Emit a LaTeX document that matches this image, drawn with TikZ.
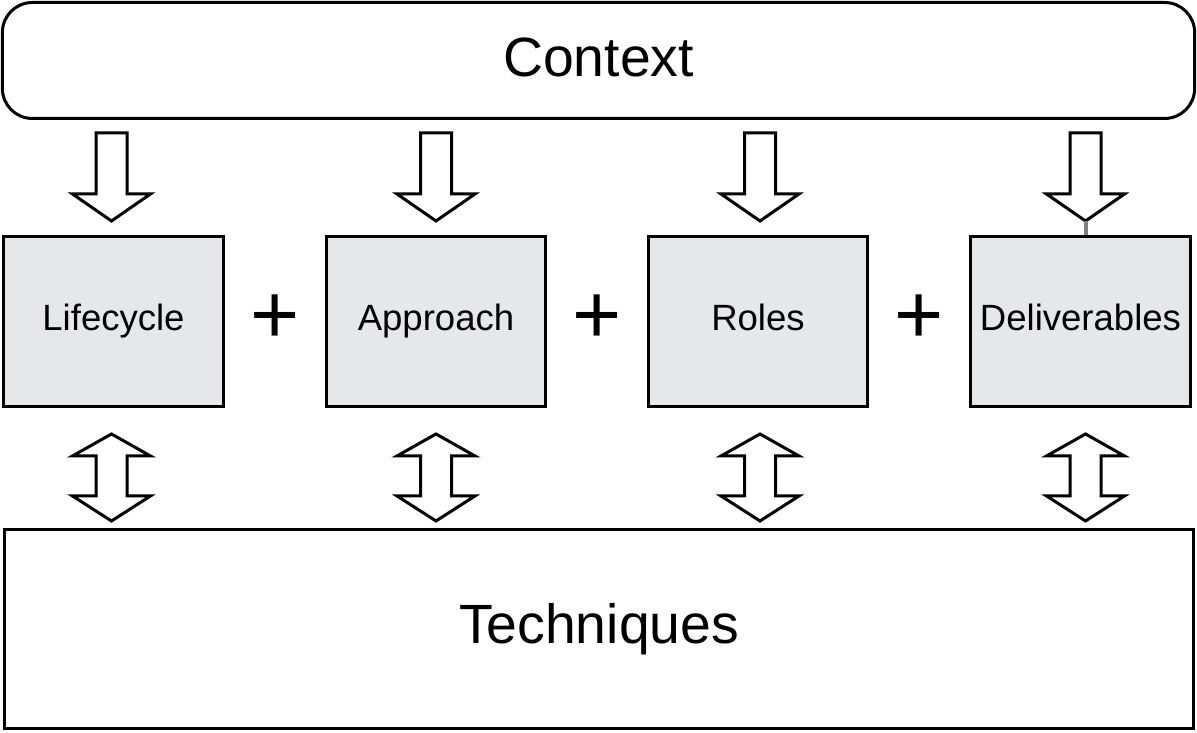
\documentclass[tikz,border=0pt]{standalone}
\usepackage{fontspec}
\setmainfont{Liberation Sans}
\usepackage{xcolor}
\usepackage{tikz}
\usetikzlibrary{positioning,calc}

\definecolor{boxgray}{HTML}{E6E7E8}
\tikzset{
  frame/.style={draw=black,line width=0.06cm},
  partbox/.style={frame,fill=boxgray,minimum width=4.4cm,minimum height=3.4cm,
    text height=15pt,text depth=4.2pt,font=\fontsize{20.8}{21}\selectfont},
  hollow/.style={draw=black,line width=0.06cm,fill=white}
}

\begin{document}
\begin{tikzpicture}[x=0.02cm,y=0.02cm]
  \useasboundingbox (0,0) rectangle (1197,733);
  \node[frame,rounded corners=0.6cm,minimum width=23.85cm,minimum height=2.32cm,
    text height=23pt,text depth=5pt,
    font=\fontsize{31.5}{32}\selectfont] (ctx) at (598.5,672.5) {Context};
  \node[frame,minimum width=23.8cm,minimum height=3.98cm,
    font=\fontsize{31.5}{32}\selectfont] (tech) at (599,104) {Techniques};
  \node[partbox] (b1) at (113.5,411.5) {Lifecycle};
  \node[partbox] (b2) at (436,411.5) {Approach};
  \node[partbox] (b3) at (758,411.5) {Roles};
  \node[partbox] (b4) at (1080.5,411.5) {Deliverables};
  % plus signs
  \foreach \a/\b in {1/2,2/3,3/4}
    \node[font=\fontsize{48}{48}\selectfont] (p\a) at ($(b\a.east)!0.5!(b\b.west)+(0,2)$) {+};
  % arrows from context and to techniques
  \foreach \i/\dx in {1/-2,2/0,3/2,4/5} {
    \draw[hollow] ($(ctx.south -| b\i)+(\dx-15.5,-13)$) -- ++(31,0) -- ++(0,-61)
      -- ++(23.5,0) -- ++(-39,-27) -- ++(-39,27) -- ++(23.5,0) -- cycle;
    \draw[hollow] ($(b\i.south)+(\dx,-26)$) -- ++(39,-22) -- ++(-23.5,0) -- ++(0,-40)
      -- ++(23.5,0) -- ++(-39,-25) -- ++(-39,25) -- ++(23.5,0) -- ++(0,40)
      -- ++(-23.5,0) -- cycle;
  }
  \coordinate (tip4) at ($(ctx.south -| b4)+(5,-101)$);
  \draw[gray,line width=0.08cm] (tip4) -- (tip4 |- b4.north);
\end{tikzpicture}
\end{document}
